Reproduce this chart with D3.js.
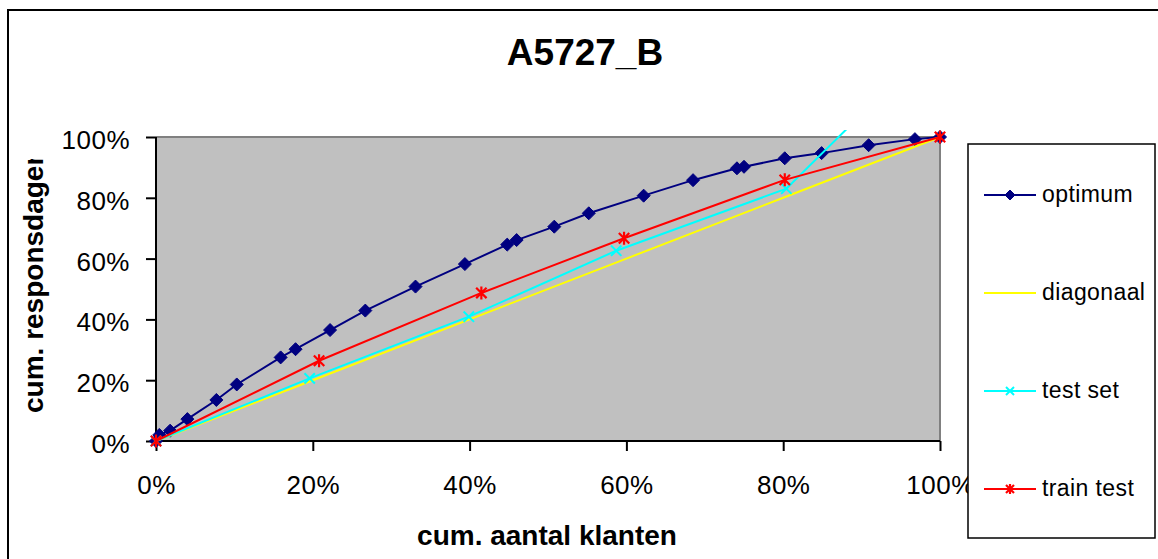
<!DOCTYPE html>
<html>
<head>
<meta charset="utf-8">
<script src="https://cdn.jsdelivr.net/npm/d3@7"></script>
<style>
  html, body { margin: 0; padding: 0; background: #fff; }
  svg { display: block; font-family: "Liberation Sans", Arial, sans-serif; }
</style>
</head>
<body>
<svg id="chart" width="1158" height="559"></svg>
<script>
// Cumulative response (gains) curves, values in percent
const optimumX  = [0, 0.42, 1.8, 4.0, 7.7, 10.3, 15.9, 17.8, 22.2, 26.7, 33.1, 39.4, 44.8, 46.0, 50.8, 55.2, 62.2, 68.5, 74.1, 75.0, 80.2, 84.9, 90.9, 96.8, 100];
const optimumY  = [0, 2.0, 3.4, 7.2, 13.5, 18.6, 27.5, 30.2, 36.5, 42.9, 50.8, 58.2, 64.6, 66.1, 70.5, 74.9, 80.7, 85.8, 89.7, 90.2, 93.0, 94.7, 97.3, 99.3, 100];
const diagonaalX = [0, 20, 40, 60, 80, 100];
const diagonaalY = [0, 20, 40, 60, 80, 100];
const testSetX  = [0, 19.6, 39.9, 58.7, 80.4, 100];
const testSetY  = [0, 20.6, 40.9, 62.6, 83.0, 133];
const trainTestX = [0, 20.8, 41.5, 59.7, 80.2, 100];
const trainTestY = [0, 26.4, 48.7, 66.7, 85.9, 100];
const tickValues = [0, 20, 40, 60, 80, 100];
const seriesNames = ["optimum", "diagonaal", "test set", "train test"];

const svg = d3.select("#chart");
const W = 1158, H = 559;
const plot = { left: 156, right: 940, top: 137, bottom: 441 };

const x = d3.scaleLinear().domain([0, 100]).range([plot.left, plot.right]);
const y = d3.scaleLinear().domain([0, 100]).range([plot.bottom, plot.top]);

// Chart area border (top and left edges visible)
svg.append("path")
  .attr("d", `M8,${H} L8,10 L${W},10`)
  .attr("fill", "none").attr("stroke", "#000").attr("stroke-width", 2);

// Title
svg.append("text")
  .attr("x", 585).attr("y", 65)
  .attr("text-anchor", "middle")
  .attr("font-size", 37).attr("font-weight", "bold")
  .text("A5727_B");

// Plot area
svg.append("rect")
  .attr("x", plot.left).attr("y", plot.top)
  .attr("width", plot.right - plot.left).attr("height", plot.bottom - plot.top)
  .attr("fill", "#C0C0C0");
svg.append("path")
  .attr("d", `M${plot.left},${plot.top} L${plot.right},${plot.top} L${plot.right},${plot.bottom}`)
  .attr("fill", "none").attr("stroke", "#808080").attr("stroke-width", 2);

// Axes
const fmt = d => d + "%";
const yAxis = svg.append("g")
  .attr("transform", `translate(${plot.left},0)`)
  .call(d3.axisLeft(y).tickValues(tickValues).tickFormat(fmt).tickSize(10).tickPadding(16));
const xAxis = svg.append("g")
  .attr("transform", `translate(0,${plot.bottom})`)
  .call(d3.axisBottom(x).tickValues(tickValues).tickFormat(fmt).tickSize(10));

[yAxis, xAxis].forEach(g => {
  g.select(".domain").attr("stroke", "#000").attr("stroke-width", 2);
  g.selectAll(".tick line").attr("stroke", "#000").attr("stroke-width", 2);
  g.selectAll(".tick text")
    .attr("font-family", "Liberation Sans, Arial, sans-serif")
    .attr("font-size", 26).attr("fill", "#000")
    .attr("letter-spacing", 0.5);
});
yAxis.selectAll(".domain").attr("d", `M0,${plot.bottom}V${plot.top}`);
yAxis.selectAll(".tick text").attr("dy", "0.44em");
xAxis.selectAll(".domain").attr("d", `M${plot.left},0H${plot.right}`);
xAxis.selectAll(".tick text").attr("y", 53).attr("dy", 0);

// Axis titles
svg.append("text")
  .attr("x", 547).attr("y", 545)
  .attr("text-anchor", "middle")
  .attr("font-size", 28).attr("font-weight", "bold")
  .text("cum. aantal klanten");

svg.append("clipPath").attr("id", "ylabel-clip")
  .append("rect").attr("x", 0).attr("y", 159).attr("width", 100).attr("height", 300);
svg.append("g").attr("clip-path", "url(#ylabel-clip)")
  .append("text")
  .attr("transform", "translate(43,413) rotate(-90)")
  .attr("text-anchor", "start")
  .attr("font-size", 28).attr("font-weight", "bold")
  .text("cum. responsdagen");

// Series
svg.append("clipPath").attr("id", "plot-clip")
  .append("rect").attr("x", plot.left - 16).attr("y", plot.top - 7)
  .attr("width", plot.right - plot.left + 32).attr("height", plot.bottom - plot.top + 30);

const series = [
  { name: seriesNames[0], xs: optimumX, ys: optimumY, color: "#000080", marker: "diamond" },
  { name: seriesNames[1], xs: diagonaalX, ys: diagonaalY, color: "#FFFF00", marker: null },
  { name: seriesNames[2], xs: testSetX, ys: testSetY, color: "#00FFFF", marker: "x" },
  { name: seriesNames[3], xs: trainTestX, ys: trainTestY, color: "#FF0000", marker: "star" }
];

function drawMarker(g, type, cx, cy, color, s) {
  if (type === "diamond") {
    g.append("path")
      .attr("d", `M${cx},${cy - s} L${cx + s},${cy} L${cx},${cy + s} L${cx - s},${cy} Z`)
      .attr("fill", color).attr("stroke", color).attr("stroke-width", 1);
  } else if (type === "x") {
    const r = s * 0.8;
    g.append("path")
      .attr("d", `M${cx - r},${cy - r} L${cx + r},${cy + r} M${cx - r},${cy + r} L${cx + r},${cy - r}`)
      .attr("stroke", color).attr("stroke-width", 2).attr("fill", "none");
  } else if (type === "star") {
    const r = s * 0.8;
    g.append("path")
      .attr("d", `M${cx - r},${cy - r} L${cx + r},${cy + r} M${cx - r},${cy + r} L${cx + r},${cy - r} M${cx},${cy - s} L${cx},${cy + s}`)
      .attr("stroke", color).attr("stroke-width", 2.2).attr("fill", "none");
  }
}

const lineGen = d3.line().x(d => x(d[0])).y(d => y(d[1]));
const plotG = svg.append("g").attr("clip-path", "url(#plot-clip)");
series.forEach(s => {
  const pts = s.xs.map((v, i) => [v, s.ys[i]]);
  const g = plotG.append("g");
  g.append("path").datum(pts)
    .attr("d", lineGen)
    .attr("fill", "none").attr("stroke", s.color).attr("stroke-width", 2);
  if (s.marker) {
    pts.forEach(p => drawMarker(g, s.marker, x(p[0]), y(p[1]), s.color, s.marker === "diamond" ? 6.5 : 6.5));
  }
});

// Legend
const legend = svg.append("g");
legend.append("rect")
  .attr("x", 968).attr("y", 144).attr("width", 187).attr("height", 394)
  .attr("fill", "#fff").attr("stroke", "#000").attr("stroke-width", 1.5);
const legendY = d3.scalePoint().domain(seriesNames).range([195, 489]);
series.forEach(s => {
  const cy = legendY(s.name);
  legend.append("line")
    .attr("x1", 984).attr("x2", 1036).attr("y1", cy).attr("y2", cy)
    .attr("stroke", s.color).attr("stroke-width", 2);
  if (s.marker) drawMarker(legend, s.marker, 1010, cy, s.color, 5);
  legend.append("text")
    .attr("x", 1042).attr("y", cy + 7)
    .attr("font-size", 23).attr("letter-spacing", 0.4)
    .text(s.name);
});
</script>
</body>
</html>
